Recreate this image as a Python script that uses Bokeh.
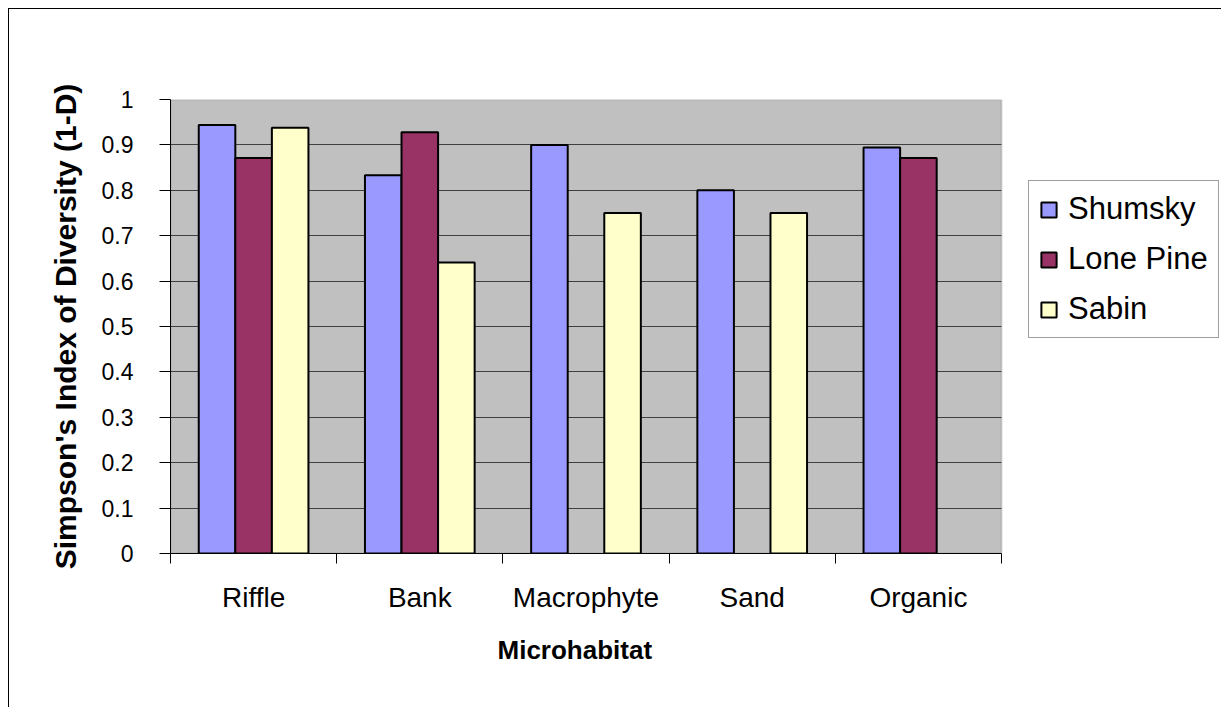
import numpy as np
from bokeh.plotting import figure
from bokeh.models import (Range1d, FixedTicker, Legend, LegendItem, ColumnDataSource,
                          BoxAnnotation, Title)
from bokeh.embed import file_html
from bokeh.resources import INLINE

categories = ["Riffle", "Bank", "Macrophyte", "Sand", "Organic"]
series_names = ["Shumsky", "Lone Pine", "Sabin"]
shumsky = [0.944, 0.833, 0.900, 0.800, 0.894]
lone_pine = [0.871, 0.928, None, None, 0.871]
sabin = [0.938, 0.641, 0.750, 0.750, None]
colors = ["#9999FF", "#993366", "#FFFFCC"]
y_ticks = [0, 0.1, 0.2, 0.3, 0.4, 0.5, 0.6, 0.7, 0.8, 0.9, 1]
y_tick_labels = ["0", "0.1", "0.2", "0.3", "0.4", "0.5", "0.6", "0.7", "0.8", "0.9", "1"]
x_title = "Microhabitat"
y_title = "Simpson's Index of Diversity (1-D)"

W, H = 1213, 699
LEFT, TOP, BOTTOM = 161, 90, 155
frame_w = W - LEFT
plot_w = 831  # pixel width of the category area
n = len(categories)
x_end = n * frame_w / plot_w

p = figure(width=W, height=H, output_backend="svg", toolbar_location=None,
           x_range=Range1d(0, x_end), y_range=Range1d(0, 1),
           min_border_left=LEFT, min_border_top=TOP, min_border_right=0, min_border_bottom=BOTTOM)
p.styles = {"margin-left": "8px", "margin-top": "8px",
            "border-left": "1px solid black", "border-top": "1px solid black"}

p.background_fill_color = "white"
p.border_fill_color = "white"
p.outline_line_color = None

# plot area (gray) restricted to the category region
area = BoxAnnotation(left=0, right=n, bottom=0, top=1, fill_color="#C0C0C0", fill_alpha=1,
                     line_color="#808080", line_width=2, level="underlay")
p.add_layout(area)
p.center = [area] + [r for r in p.center if r is not area]

bar_w = 0.22
renderers = []
for j, (name, vals) in enumerate(zip(series_names, [shumsky, lone_pine, sabin])):
    idx = [i for i, v in enumerate(vals) if v is not None]
    xs = [i + 0.5 + (j - 1) * bar_w for i in idx]
    ys = [vals[i] for i in idx]
    src = ColumnDataSource(dict(x=xs, top=ys))
    r = p.vbar(x="x", top="top", bottom=0, width=bar_w, source=src,
               fill_color=colors[j], line_color="black", line_width=2)
    renderers.append(r)

# x axis: labels at centres, ticks at category boundaries
xa = p.xaxis[0]
xa.bounds = (0, n)
xa.ticker = FixedTicker(ticks=[i + 0.5 for i in range(n)], minor_ticks=list(range(n + 1)))
xa.major_label_overrides = {i + 0.5: c for i, c in enumerate(categories)}
xa.major_tick_out = 0
xa.major_tick_in = 0
xa.minor_tick_out = 10
xa.minor_tick_in = 0
xa.minor_tick_line_color = "black"
xa.axis_line_color = "black"
xa.major_label_text_font = "Liberation Sans"
xa.major_label_text_font_size = "28px"
xa.major_label_text_color = "black"
xa.major_label_standoff = 18

# x-axis title centred under the category area
t = Title(text=x_title, align="left", offset=327, standoff=35,
          text_font="Liberation Sans", text_font_style="bold", text_font_size="26px",
          text_color="black")
p.add_layout(t, "below")

ya = p.yaxis[0]
ya.ticker = FixedTicker(ticks=y_ticks, minor_ticks=[])
ya.major_label_overrides = {tk: lb for tk, lb in zip(y_ticks, y_tick_labels)}
ya.major_tick_out = 11
ya.major_tick_in = 0
ya.minor_tick_out = 0
ya.minor_tick_in = 0
ya.major_tick_line_color = "black"
ya.axis_line_color = "black"
ya.major_label_text_font = "Liberation Sans"
ya.major_label_text_font_size = "23px"
ya.major_label_text_color = "black"
ya.major_label_standoff = 26
ya.axis_label = y_title
ya.axis_label_text_font = "Liberation Sans"
ya.axis_label_text_font_style = "bold"
ya.axis_label_text_font_size = "30px"
ya.axis_label_text_color = "black"
ya.axis_label_standoff = 17

p.xgrid.grid_line_color = None
p.ygrid.grid_line_color = "#404040"
p.ygrid.grid_line_width = 1
p.ygrid.bounds = (0, 0.95)
p.ygrid.cross_bounds = (0, n)

legend = Legend(items=[LegendItem(label=nm, renderers=[r]) for nm, r in zip(series_names, renderers)],
                location=(858, 215), margin=0, padding=10, spacing=14,
                glyph_width=19, glyph_height=19, label_standoff=10, label_height=34,
                label_text_font="Liberation Sans", label_text_font_size="31px",
                label_text_color="black", border_line_color="#404040", border_line_width=1,
                background_fill_color="white", background_fill_alpha=1)
p.add_layout(legend, "center")

open("out.html", "w").write(file_html(p, INLINE))
